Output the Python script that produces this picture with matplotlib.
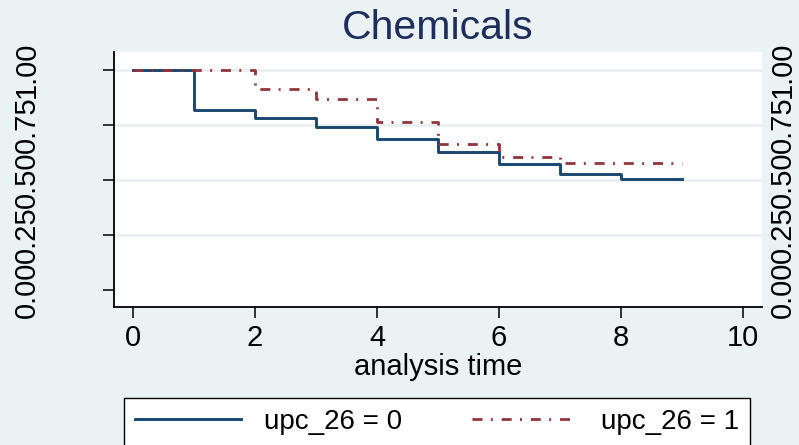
import matplotlib
matplotlib.use("Agg")
import matplotlib.pyplot as plt

plt.rcParams['font.family'] = ['Liberation Sans', 'DejaVu Sans']

# Kaplan-Meier survival estimates
time_g0 = [0, 1, 2, 3, 4, 5, 6, 7, 8, 9]
surv_g0 = [1.0, 0.818, 0.782, 0.742, 0.685, 0.627, 0.571, 0.527, 0.503, 0.503]
time_g1 = [0, 2, 3, 4, 5, 6, 7, 9]
surv_g1 = [1.0, 0.914, 0.867, 0.762, 0.665, 0.605, 0.579, 0.579]
series_labels = ['upc_26 = 0', 'upc_26 = 1']
x_ticks = [0, 2, 4, 6, 8, 10]
y_ticks = [0.0, 0.25, 0.5, 0.75, 1.0]
y_ticklabels = ['0.00', '0.25', '0.50', '0.75', '1.00']
title = 'Chemicals'
xlabel = 'analysis time'

W, H = 799, 445
bg = '#eaf2f3'
fs = 21
fig = plt.figure(figsize=(W / 100, H / 100), dpi=100, facecolor=bg)
ax = fig.add_axes([114 / W, 1 - 307 / H, (762 - 114) / W, (307 - 52) / H])
ax.set_facecolor('white')

for yv in y_ticks[1:]:
    ax.axhline(yv, color='#e6eef1', lw=1.8, zorder=1)

l0, = ax.step(time_g0, surv_g0, where='post', color='#1a476f', lw=2.1, zorder=3)
l1, = ax.step(time_g1, surv_g1, where='post', color='#90353b', lw=2.0,
              linestyle=(0, (3.6, 3.0, 0.7, 3.2)), zorder=4)

ax.set_xlim(-0.31, 10.31)
ax.set_ylim(-0.077, 1.082)
ax.set_xticks(x_ticks)
ax.set_xticklabels([str(v) for v in x_ticks], fontsize=fs)
ax.set_yticks(y_ticks)
ax.set_yticklabels(y_ticklabels, fontsize=fs, rotation=90, va='center')
ax.tick_params(axis='x', length=8, width=1.1, pad=4, color='black')
ax.tick_params(axis='y', length=8, width=1.1, pad=44.6, color='black')
for s in ['top', 'right']:
    ax.spines[s].set_visible(False)
for s in ['left', 'bottom']:
    ax.spines[s].set_linewidth(1.3)

ax2 = ax.twinx()
ax2.set_ylim(ax.get_ylim())
ax2.set_yticks(y_ticks)
ax2.set_yticklabels(y_ticklabels, fontsize=fs, rotation=90, va='center')
ax2.tick_params(axis='y', length=0, pad=5)
for s in ax2.spines.values():
    s.set_visible(False)

ax.set_xlabel(xlabel, fontsize=fs, va='baseline')
ax.xaxis.set_label_coords(0.5, -(375 - 307) / (307 - 52))
fig.text(438 / W, 1 - 39 / H, title, fontsize=29.5, color='#1e2e5c',
         ha='center', va='baseline')

leg = fig.legend([l0, l1], series_labels, ncol=2, loc='upper left',
                 bbox_to_anchor=(124 / W, 1 - 398 / H, (750 - 124) / W, 0),
                 mode='expand', borderaxespad=0, fancybox=False,
                 edgecolor='black', framealpha=1, fontsize=20,
                 handlelength=3.8, handletextpad=0.85, borderpad=0.4)
leg.get_frame().set_linewidth(1.0)

fig.savefig('out.png', dpi=100, facecolor=bg)
